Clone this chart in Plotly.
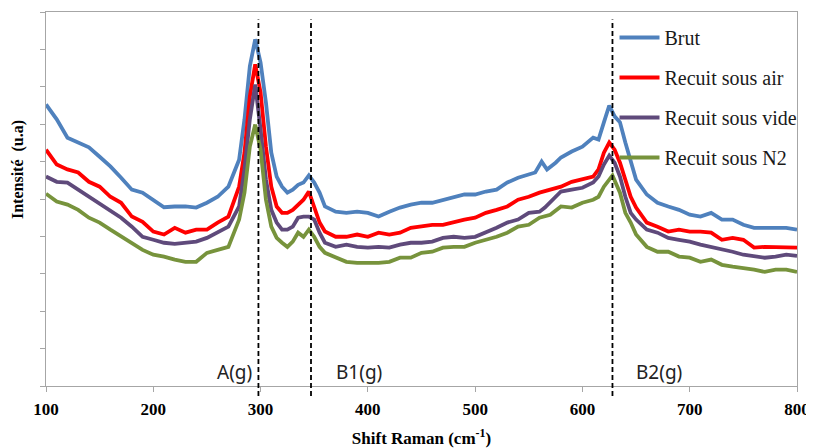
import plotly.graph_objects as go

# ---- data (intensity in arbitrary units) ----
brut_x = [100, 110, 120, 140, 150, 160, 170, 180, 190, 200, 210, 220, 230, 240, 250, 260, 270, 280, 285,
          290, 295, 300, 305, 310, 315, 320, 325, 330, 335, 340, 345, 350, 355, 360, 370, 380, 390, 400,
          410, 420, 430, 440, 450, 460, 470, 480, 490, 500, 510, 520, 530, 540, 550, 556, 562, 567, 575,
          580, 590, 600, 610, 615, 620, 625, 630, 635, 640, 645, 650, 660, 670, 680, 690, 700, 710, 720,
          730, 740, 750, 760, 770, 780, 790, 800]
brut_y = [7.53, 7.13, 6.64, 6.38, 6.13, 5.87, 5.57, 5.25, 5.17, 4.98, 4.78, 4.80, 4.80, 4.77, 4.90, 5.06,
          5.33, 6.05, 7.13, 8.55, 9.27, 8.65, 7.58, 6.24, 5.60, 5.33, 5.17, 5.25, 5.38, 5.44, 5.63, 5.44,
          5.17, 4.80, 4.66, 4.63, 4.66, 4.63, 4.53, 4.66, 4.77, 4.85, 4.90, 4.90, 4.98, 5.04, 5.12, 5.12,
          5.20, 5.25, 5.44, 5.57, 5.65, 5.71, 6.00, 5.79, 5.97, 6.11, 6.27, 6.40, 6.64, 6.59, 7.05, 7.50,
          7.21, 7.05, 6.51, 5.97, 5.52, 5.12, 4.90, 4.80, 4.71, 4.58, 4.53, 4.63, 4.45, 4.45, 4.31, 4.23,
          4.23, 4.21, 4.23, 4.18]

air_x = [100, 110, 120, 130, 140, 150, 160, 170, 180, 190, 200, 210, 220, 230, 240, 250, 260, 270, 280,
         285, 290, 295, 300, 305, 310, 315, 320, 325, 330, 335, 340, 345, 350, 355, 360, 370, 380, 390,
         400, 410, 420, 430, 440, 450, 460, 470, 480, 490, 500, 510, 520, 530, 540, 550, 560, 570, 580,
         590, 600, 610, 615, 620, 625, 630, 635, 640, 645, 650, 660, 670, 680, 690, 700, 710, 720, 730,
         740, 750, 760, 770, 780, 790, 800]
air_y = [6.32, 5.92, 5.79, 5.71, 5.46, 5.33, 5.06, 4.90, 4.53, 4.39, 4.13, 4.05, 4.23, 4.10, 4.18, 4.18,
         4.37, 4.53, 5.33, 6.24, 7.74, 8.60, 7.85, 6.40, 5.33, 4.80, 4.63, 4.63, 4.71, 4.85, 4.98, 5.20,
         4.80, 4.37, 4.13, 3.99, 3.99, 4.05, 3.99, 4.10, 4.05, 4.10, 4.23, 4.26, 4.31, 4.31, 4.39, 4.45,
         4.50, 4.63, 4.71, 4.80, 4.98, 5.06, 5.17, 5.25, 5.33, 5.46, 5.52, 5.60, 5.79, 6.24, 6.51, 6.32,
         5.97, 5.52, 5.06, 4.77, 4.37, 4.26, 4.13, 4.18, 4.13, 4.13, 4.10, 3.91, 3.96, 3.91, 3.70, 3.72,
         3.72, 3.70, 3.70]

vide_x = [100, 110, 120, 130, 140, 150, 160, 170, 180, 190, 200, 210, 220, 230, 240, 250, 260, 270, 280,
          285, 290, 295, 300, 305, 310, 315, 320, 325, 330, 335, 340, 345, 350, 355, 360, 370, 380, 390,
          400, 410, 420, 430, 440, 450, 460, 470, 480, 490, 500, 510, 520, 530, 540, 550, 560, 565, 575,
          580, 590, 600, 610, 615, 620, 625, 630, 635, 640, 645, 650, 660, 670, 680, 690, 700, 710, 720,
          730, 740, 750, 760, 770, 780, 790, 800]
vide_y = [5.60, 5.46, 5.44, 5.25, 5.04, 4.85, 4.66, 4.50, 4.26, 3.99, 3.91, 3.83, 3.80, 3.83, 3.86, 3.96,
          4.10, 4.26, 4.80, 5.79, 7.13, 8.06, 6.86, 5.52, 4.71, 4.37, 4.18, 4.18, 4.26, 4.50, 4.53, 4.53,
          4.45, 4.10, 3.83, 3.72, 3.78, 3.72, 3.70, 3.72, 3.70, 3.78, 3.83, 3.83, 3.86, 3.96, 3.99, 3.96,
          3.99, 4.10, 4.23, 4.37, 4.45, 4.63, 4.66, 4.77, 5.06, 5.20, 5.25, 5.30, 5.44, 5.60, 5.92, 6.16,
          5.97, 5.60, 5.06, 4.63, 4.45, 4.18, 4.10, 3.96, 3.91, 3.86, 3.78, 3.72, 3.64, 3.59, 3.51, 3.46,
          3.43, 3.46, 3.51, 3.48]

n2_x = [100, 110, 120, 130, 140, 150, 160, 170, 180, 190, 200, 210, 220, 230, 240, 250, 260, 270, 280,
        285, 290, 295, 300, 305, 310, 315, 320, 325, 330, 335, 340, 345, 350, 355, 360, 370, 380, 390,
        400, 410, 420, 430, 440, 450, 460, 470, 480, 490, 500, 510, 520, 530, 540, 550, 560, 570, 580,
        590, 600, 610, 615, 620, 625, 628, 635, 640, 645, 650, 660, 670, 680, 690, 700, 710, 720, 730,
        740, 750, 760, 770, 780, 790, 800]
n2_y = [5.14, 4.93, 4.85, 4.71, 4.50, 4.37, 4.18, 3.99, 3.83, 3.64, 3.51, 3.46, 3.38, 3.32, 3.32, 3.56,
        3.64, 3.72, 4.45, 5.17, 6.40, 6.99, 6.32, 4.98, 4.26, 3.96, 3.83, 3.72, 3.86, 4.10, 3.99, 4.18,
        3.99, 3.72, 3.56, 3.43, 3.32, 3.29, 3.29, 3.29, 3.32, 3.43, 3.43, 3.56, 3.59, 3.70, 3.72, 3.72,
        3.83, 3.91, 3.99, 4.10, 4.26, 4.31, 4.50, 4.58, 4.80, 4.77, 4.90, 4.98, 5.06, 5.33, 5.52, 5.63,
        5.17, 4.63, 4.37, 4.05, 3.72, 3.59, 3.59, 3.46, 3.43, 3.32, 3.38, 3.24, 3.19, 3.16, 3.11, 3.05,
        3.11, 3.11, 3.05]

series_names = ["Brut", "Recuit sous air", "Recuit sous vide", "Recuit sous N2"]
series_colors = ["#4F81BD", "#FF0000", "#5F4A7B", "#77933C"]

peak_positions = [298, 347, 628]
peak_labels = ["A(g)", "B1(g)", "B2(g)"]

x_ticks = [100, 200, 300, 400, 500, 600, 700, 800]

SERIF = "Liberation Serif"
AXIS_GREY = "#A6A6A6"

fig = go.Figure()
for i, (name, xs, ys, col) in enumerate(zip(series_names,
                                            [brut_x, air_x, vide_x, n2_x],
                                            [brut_y, air_y, vide_y, n2_y],
                                            series_colors)):
    fig.add_trace(go.Scatter(x=xs, y=ys, mode="lines", name=name, legendgroup=f"g{i}",
                             line=dict(color=col, width=3.8)))

# dashed reference lines at the Raman modes
for xp in peak_positions:
    fig.add_shape(type="line", xref="x", yref="paper", x0=xp, x1=xp, y0=-0.027, y1=0.98,
                  line=dict(color="black", width=1.8, dash="5px,3px"))

# mode labels
label_offsets = [-24, 48, 47]
for xp, lab, dx in zip(peak_positions, peak_labels, label_offsets):
    fig.add_annotation(x=xp, y=0.037, xref="x", yref="paper", text=lab, showarrow=False,
                       xshift=dx, yanchor="middle",
                       font=dict(family="Noto Sans", size=19, color="#222222"))

fig.add_annotation(x=-0.037, y=0.578, xref="paper", yref="paper", text="<b>Intensité  (u.a)</b>",
                   textangle=-90, showarrow=False, xanchor="center", yanchor="middle",
                   font=dict(family=SERIF, size=16, color="black"))

# the page body adds an 8 px offset, so the figure is 8 px smaller and shifted margins
fig.update_layout(
    width=806, height=440,
    margin=dict(l=38, r=17, t=4, b=62, autoexpand=False),
    plot_bgcolor="white", paper_bgcolor="white",
    showlegend=True,
    legend=dict(x=0.757, y=0.984, xanchor="left", yanchor="top", bgcolor="rgba(0,0,0,0)",
                font=dict(family=SERIF, size=20, color="#1a1a1a"), tracegroupgap=11,
                itemwidth=40),
    xaxis=dict(range=[100, 800], tickvals=x_ticks, ticktext=[f"<b>{t}</b>" for t in x_ticks],
               ticks="outside", ticklen=5, tickcolor=AXIS_GREY, showline=True, linecolor=AXIS_GREY,
               linewidth=1.3, mirror=True, showgrid=False, zeroline=False, automargin=False,
               ticklabelstandoff=2,
               tickfont=dict(family=SERIF, size=17, color="black"),
               title=dict(text="<b>Shift Raman (cm<sup>-1</sup>)</b>", standoff=14,
                          font=dict(family=SERIF, size=17, color="black"))),
    yaxis=dict(range=[0, 10], dtick=1, showticklabels=False, ticks="outside", ticklen=5,
               tickcolor=AXIS_GREY, showline=True, linecolor=AXIS_GREY, linewidth=1.3, mirror=True,
               showgrid=False, zeroline=False, automargin=False),
)

fig.write_html("out.html")
